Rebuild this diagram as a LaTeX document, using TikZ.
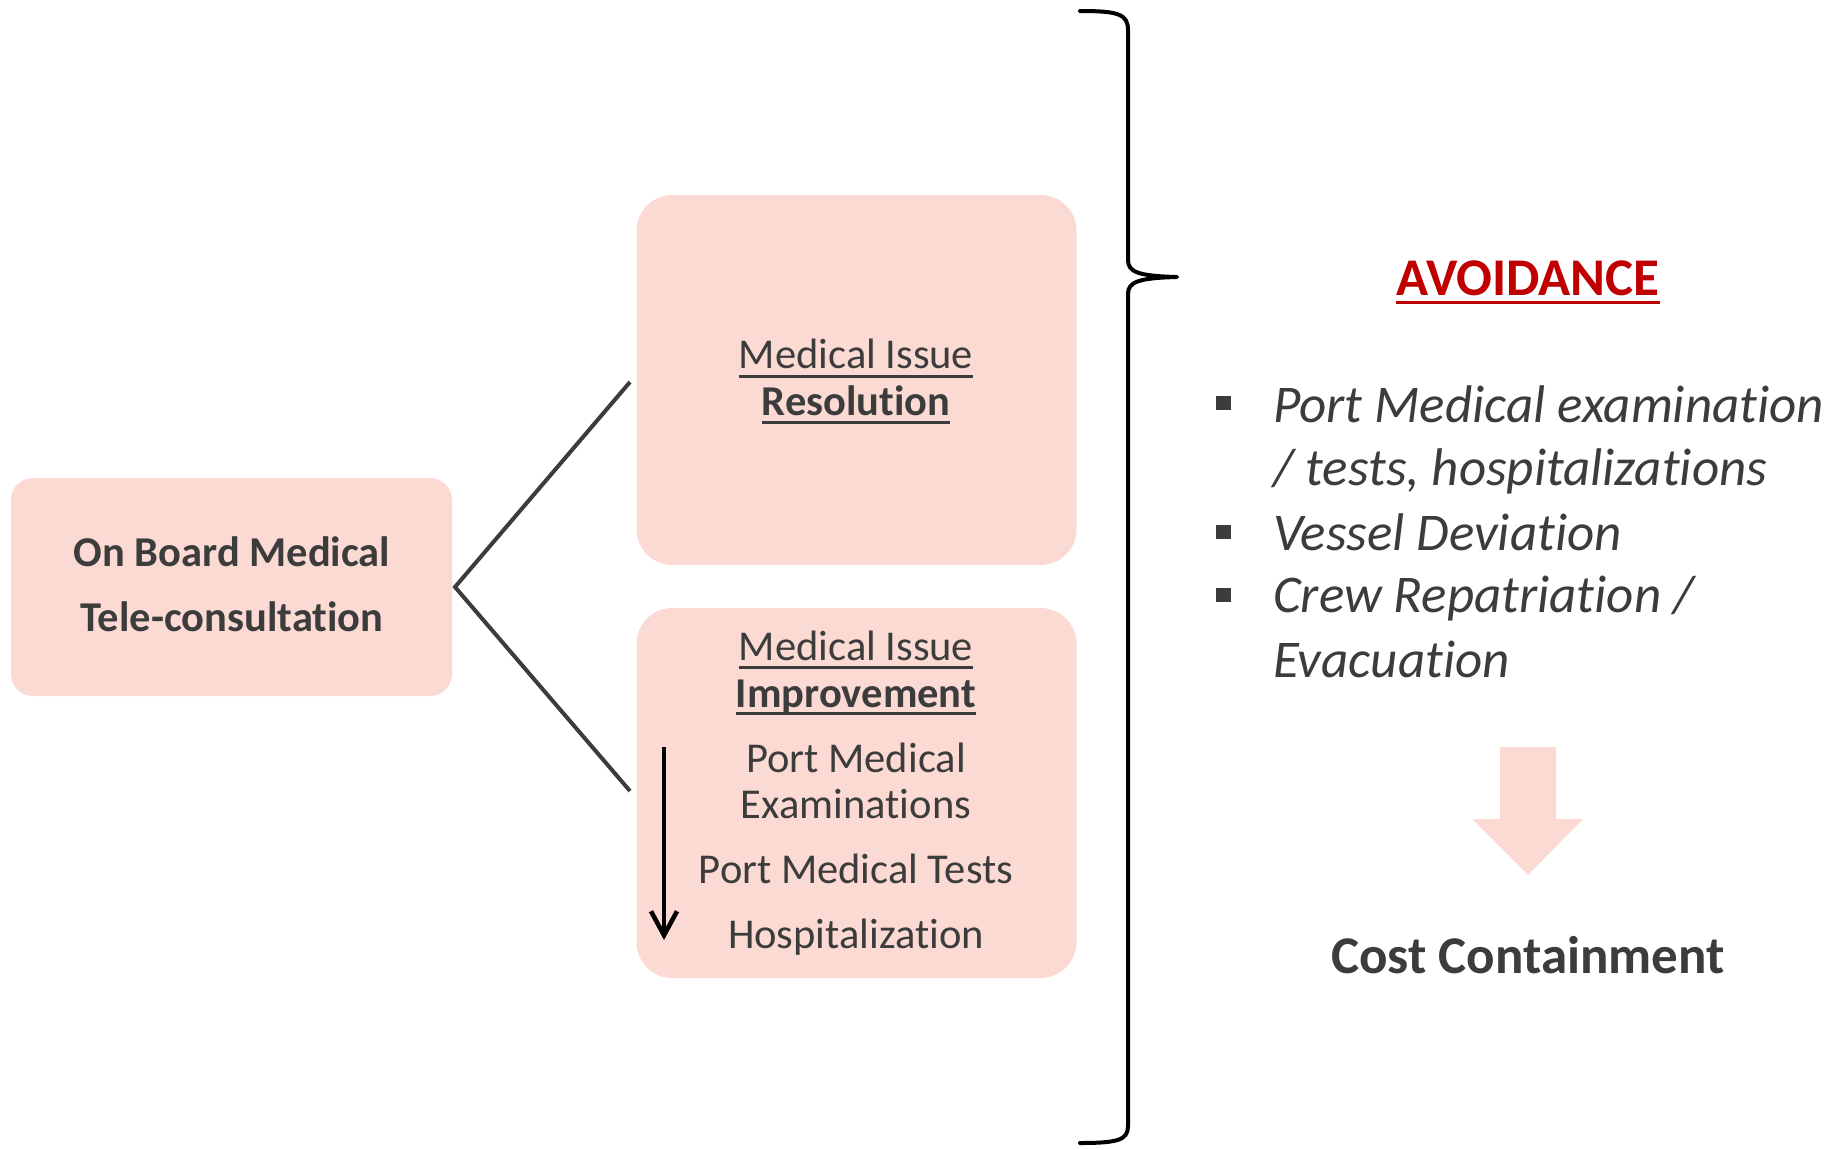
\documentclass[tikz,border=0pt]{standalone}
\usepackage{fontspec}
\setmainfont{Carlito}[Ligatures={NoCommon,NoRare,NoContextual}]
\usetikzlibrary{arrows.meta}
\definecolor{pinkfill}{HTML}{FBDAD3}
\definecolor{txt}{HTML}{3C3C3C}
\definecolor{avred}{HTML}{C00000}
\begin{document}
\begin{tikzpicture}[x=1pt,y=-1pt,
  box/.style={fill=pinkfill,draw=none,rectangle,inner sep=0pt},
  txtnode/.style={inner sep=0pt,anchor=base,text=txt,font=\fontsize{42.5}{50}\selectfont},
  bolds/.style={txtnode,font=\fontsize{42.5}{50}\selectfont\bfseries},
  ital/.style={inner sep=0pt,anchor=base west,text=txt,font=\fontsize{53}{60}\selectfont\itshape},
  uline/.style={draw=txt,line width=3pt},
  conn/.style={draw=txt,line width=4pt},
  bullet/.style={fill=txt,draw=none,minimum width=15pt,minimum height=14pt,inner sep=0pt}]
\useasboundingbox (0,0) rectangle (1845,1149);
\fill[white] (0,0) rectangle (1845,1149);

% boxes
\node[box,rounded corners=22pt,minimum width=441pt,minimum height=218pt] (left) at (231.5,587) {};
\node[box,rounded corners=36pt,minimum width=440pt,minimum height=370pt] (up) at (856.5,380) {};
\node[box,rounded corners=36pt,minimum width=440pt,minimum height=370pt] (low) at (856.5,793) {};

% left text
\node[bolds] (l1) at (232,566) {On Board Medical};
\node[bolds] (l2) at (232,631) {Tele-consultation};

% connectors
\coordinate (apex) at (455,587);
\coordinate (upend) at (630,382);
\coordinate (lowend) at (630,791);
\draw[conn,line join=miter] (upend) -- (apex) -- (lowend);

% upper box text
\node[txtnode] (u1) at (856,368) {Medical Issue};
\node[bolds] (u2) at (856,415) {Resolution};
\draw[uline] ([yshift=-8.5pt]u1.base west) -- ([yshift=-8.5pt]u1.base east);
\draw[uline] ([yshift=-7pt]u2.base west) -- ([yshift=-7pt]u2.base east);

% lower box text
\node[txtnode] (m1) at (856,660) {Medical Issue};
\node[bolds] (m2) at (856,707) {Improvement};
\draw[uline] ([yshift=-7.5pt]m1.base west) -- ([yshift=-7.5pt]m1.base east);
\draw[uline] ([yshift=-6.5pt]m2.base west) -- ([yshift=-6.5pt]m2.base east);
\node[txtnode] (m3) at (856,772) {Port Medical};
\node[txtnode] (m4) at (856,818) {Examinations};
\node[txtnode] (m5) at (856,883) {Port Medical Tests};
\node[txtnode] (m6) at (856,948) {Hospitalization};
\coordinate (arrtop) at (664,747);
\coordinate (arrbot) at (664,940);
\draw[line width=4.5pt,-{Straight Barb[length=24pt,width=26pt,line width=4.5pt]}] (arrtop) -- (arrbot);

% brace
\draw[line width=4pt,line cap=round,line join=round]
  (1080,11) .. controls (1118,11) and (1128,14) .. (1128,30)
  -- (1128,260) .. controls (1128,272) and (1138,276) .. (1177,277)
  .. controls (1138,278) and (1128,282) .. (1128,294)
  -- (1128,1126) .. controls (1128,1140) and (1118,1143) .. (1080,1143);

% right side
\node[inner sep=0pt,anchor=base,text=avred,font=\fontsize{53}{60}\selectfont\bfseries] (av) at (1528,295) {AVOIDANCE};
\draw[draw=avred,line width=3.5pt] ([yshift=-7.5pt]av.base west) -- ([yshift=-7.5pt]av.base east);

\node[bullet] (b1) at (1223.5,403) {};
\node[bullet] (b2) at (1223.5,532) {};
\node[bullet] (b3) at (1223.5,595) {};
\node[ital] (r1) at (1273,422) {Port Medical examination};
\node[ital] (r2) at (1273,485) {/ tests, hospitalizations};
\node[ital] (r3) at (1273,550) {Vessel Deviation};
\node[ital] (r4) at (1273,612) {Crew Repatriation /};
\node[ital] (r5) at (1273,677) {Evacuation};

\fill[pinkfill] (1500,747) -- (1556,747) -- (1556,819) -- (1583,819) -- (1528,875) -- (1472,819) -- (1500,819) -- cycle;

\node[inner sep=0pt,anchor=base,text=txt,font=\fontsize{53}{60}\selectfont\bfseries] (cc) at (1528,973) {Cost Containment};
\end{tikzpicture}
\end{document}
